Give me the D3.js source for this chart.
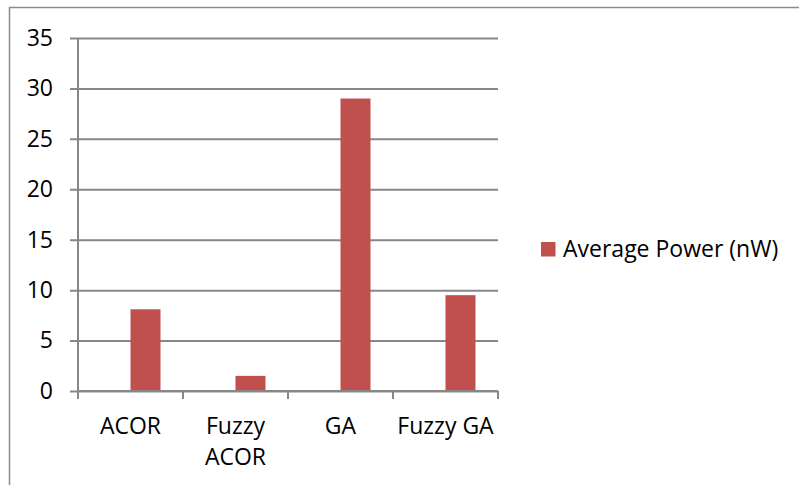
<!DOCTYPE html>
<html>
<head>
<meta charset="utf-8">
<script src="https://cdn.jsdelivr.net/npm/d3@7"></script>
<style>
  html, body { margin: 0; padding: 0; background: #fff; }
  svg { display: block; font-family: "Open Sans", Lato, sans-serif; }
</style>
</head>
<body>
<svg id="chart" width="799" height="485"></svg>
<script>
// Average power per optimisation method
const categories = [["ACOR"], ["Fuzzy", "ACOR"], ["GA"], ["Fuzzy GA"]];
const categoryKeys = ["ACOR", "Fuzzy ACOR", "GA", "Fuzzy GA"];
const seriesName = "Average Power (nW)";
const powerValues = [8.1, 1.5, 29, 9.5];
const yTicks = [0, 5, 10, 15, 20, 25, 30, 35];

const svg = d3.select("#chart");
const W = 799, H = 485;
const margin = { left: 78, right: 301, top: 38, bottom: 94 };
const axisColor = "#878787";
const barColor = "#C0504D";
const fontSize = 23;

// outer chart frame (runs past the right and bottom edges)
svg.append("rect")
  .attr("x", 9.5).attr("y", 7.5)
  .attr("width", W + 10).attr("height", H + 10)
  .attr("fill", "none").attr("stroke", "#8c8c8c").attr("stroke-width", 1.5);

const x = d3.scaleBand().domain(categoryKeys)
  .range([margin.left, W - margin.right]).paddingInner(0).paddingOuter(0);
// two slots per category with the value in the second slot, 150% gap
const slot = d3.scaleBand().domain(["", seriesName])
  .range([0, x.bandwidth()]).paddingInner(0).paddingOuter(0.75);
const y = d3.scaleLinear().domain([0, 35]).range([H - margin.bottom, margin.top]);

// horizontal gridlines
const yAxis = d3.axisLeft(y).tickValues(yTicks)
  .tickSize(-(W - margin.right - margin.left)).tickPadding(25);
const gy = svg.append("g").attr("transform", `translate(${margin.left},0)`).call(yAxis);
gy.select(".domain").remove();
gy.selectAll(".tick line").attr("stroke", axisColor).attr("stroke-width", 2)
  .attr("x1", -8);
gy.selectAll(".tick text").attr("font-size", fontSize).attr("fill", "#000")
  .attr("font-family", "'Open Sans', sans-serif");

// y axis line
svg.append("line")
  .attr("x1", margin.left).attr("x2", margin.left)
  .attr("y1", y(35)).attr("y2", y(0))
  .attr("stroke", axisColor).attr("stroke-width", 2);

// bars
svg.append("g").selectAll("rect")
  .data(categoryKeys.map((k, i) => ({ k, v: powerValues[i] })))
  .join("rect")
  .attr("x", d => x(d.k) + slot(seriesName))
  .attr("width", slot.bandwidth())
  .attr("y", d => y(d.v))
  .attr("height", d => y(0) - y(d.v))
  .attr("fill", barColor);

// x axis line and category boundary ticks
svg.append("line")
  .attr("x1", margin.left).attr("x2", W - margin.right)
  .attr("y1", y(0)).attr("y2", y(0))
  .attr("stroke", axisColor).attr("stroke-width", 2);
const bounds = categoryKeys.map(k => x(k)).concat([x.range()[1]]);
svg.append("g").selectAll("line").data(bounds).join("line")
  .attr("x1", d => d).attr("x2", d => d)
  .attr("y1", y(0)).attr("y2", y(0) + 8)
  .attr("stroke", axisColor).attr("stroke-width", 2);

// category labels
const lab = svg.append("g").selectAll("text")
  .data(categories.map((lines, i) => ({ lines, k: categoryKeys[i] })))
  .join("text")
  .attr("text-anchor", "middle")
  .attr("font-size", fontSize).attr("fill", "#000")
  .attr("x", d => x(d.k) + x.bandwidth() / 2)
  .attr("y", 434);
lab.selectAll("tspan").data(d => d.lines.map(t => ({ t, k: d.k })))
  .join("tspan")
  .attr("x", d => x(d.k) + x.bandwidth() / 2)
  .attr("dy", (d, i) => i === 0 ? 0 : 31)
  .text(d => d.t);

// legend
const lg = svg.append("g").attr("transform", "translate(541,242)");
lg.append("rect").attr("width", 14.5).attr("height", 14.5).attr("fill", barColor);
lg.append("text").attr("x", 22).attr("y", 15)
  .attr("font-size", fontSize).attr("fill", "#000").text(seriesName);
</script>
</body>
</html>
